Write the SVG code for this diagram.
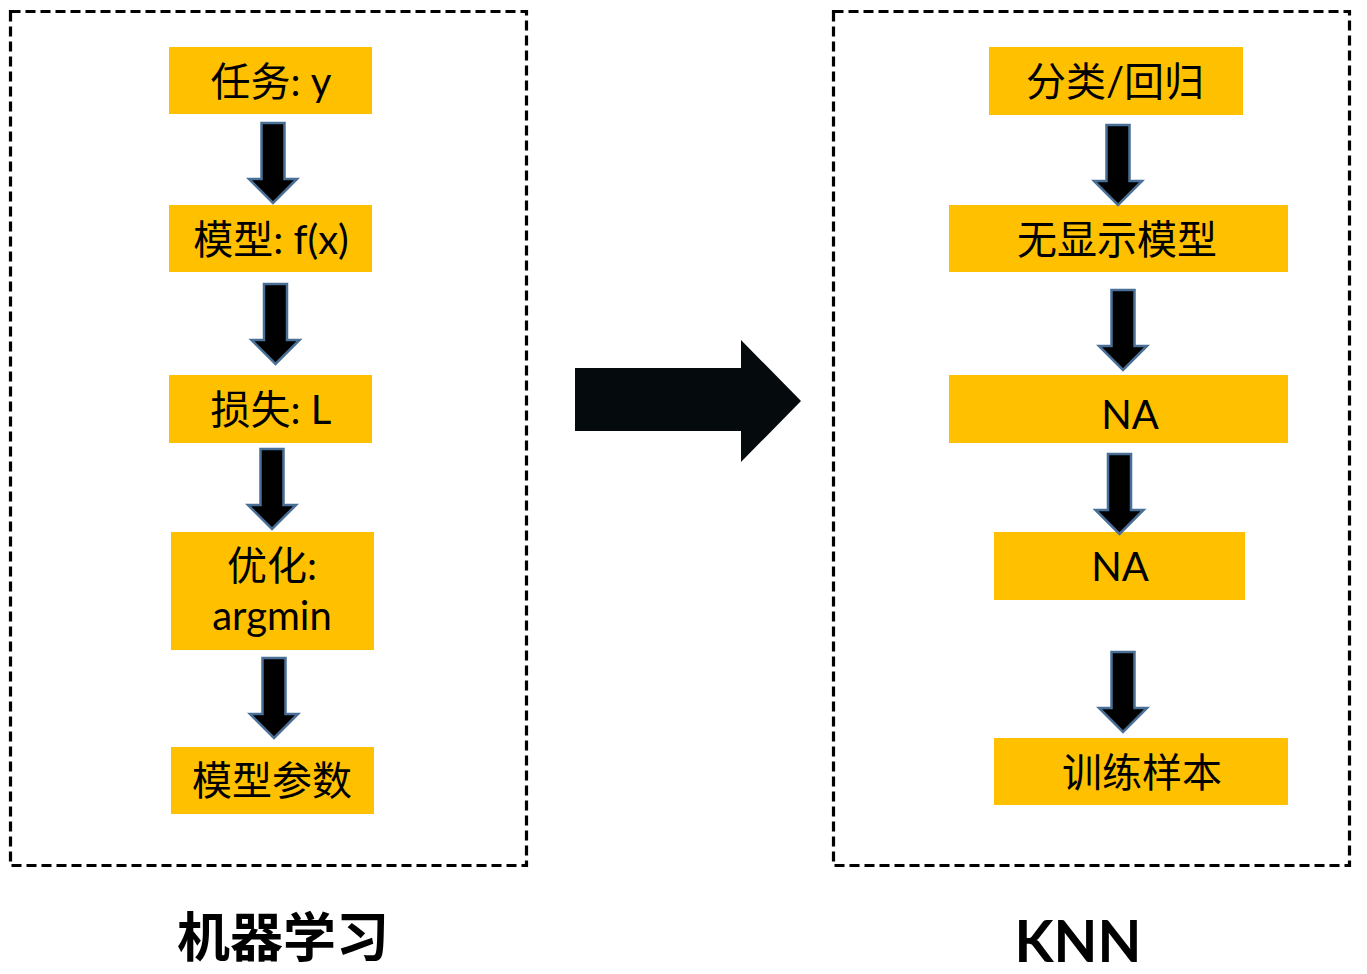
<svg xmlns="http://www.w3.org/2000/svg" width="1367" height="974" viewBox="0 0 1367 974">
<style>
.frame{fill:none;stroke:#000;stroke-width:3.2;stroke-dasharray:10 5}
.box{fill:#FFC000}
.t{font-family:"Noto Sans CJK SC","Lato",sans-serif;font-size:40px;fill:#000;text-anchor:middle}
.lat{font-family:"Lato","Liberation Sans",sans-serif}
.dn{fill:#000;stroke:#4A6F96;stroke-width:2.5;stroke-linejoin:miter}
.lbl{font-family:"Noto Sans CJK SC",sans-serif;font-weight:bold;font-size:53px;fill:#000;text-anchor:middle}
.lblk{font-family:"Lato","Liberation Sans",sans-serif;font-weight:bold;font-size:57px;fill:#000;text-anchor:middle}
</style>
<defs>
<path id="dnarrow" d="M-11.5,0 H11.5 V56 H24 L0,80 L-24,56 H-11.5 Z"/>
</defs>
<rect width="1367" height="974" fill="#fff"/>
<g id="frame-ml"><rect class="frame" x="10.5" y="11.5" width="516" height="854"/></g>
<g id="frame-knn"><rect class="frame" x="833.5" y="11.5" width="516" height="854"/></g>

<g id="n-task"><rect class="box" x="169" y="47" width="203" height="67"/><text class="t" x="271" y="96">任务<tspan class="lat">: y</tspan></text></g>
<g id="n-model"><rect class="box" x="169" y="205" width="203" height="67"/><text class="t" x="271" y="254">模型<tspan class="lat">: f(x)</tspan></text></g>
<g id="n-loss"><rect class="box" x="169" y="375" width="203" height="68"/><text class="t" x="271" y="424">损失<tspan class="lat">: L</tspan></text></g>
<g id="n-opt"><rect class="box" x="171" y="532" width="203" height="118"/><text class="t" x="272" y="580">优化<tspan class="lat">:</tspan></text><text class="t lat" x="272" y="630">argmin</text></g>
<g id="n-param"><rect class="box" x="171" y="747" width="203" height="67"/><text class="t" x="272" y="795">模型参数</text></g>

<g id="n-cls"><rect class="box" x="989" y="47" width="254" height="68"/><text class="t" x="1115" y="96">分类<tspan class="lat">/</tspan>回归</text></g>
<g id="n-nomodel"><rect class="box" x="949" y="205" width="339" height="67"/><text class="t" x="1117" y="254">无显示模型</text></g>
<g id="n-na1"><rect class="box" x="949" y="375" width="339" height="68"/><text class="t lat" x="1130" y="429">NA</text></g>
<g id="n-na2"><rect class="box" x="994" y="532" width="251" height="68"/><text class="t lat" x="1120" y="581">NA</text></g>
<g id="n-train"><rect class="box" x="994" y="738" width="294" height="67"/><text class="t" x="1142" y="787">训练样本</text></g>

<g id="connectors">
<use href="#dnarrow" class="dn" transform="translate(273,123)"/>
<use href="#dnarrow" class="dn" transform="translate(275.5,284)"/>
<use href="#dnarrow" class="dn" transform="translate(272,449)"/>
<use href="#dnarrow" class="dn" transform="translate(274,658)"/>
<use href="#dnarrow" class="dn" transform="translate(1118,125)"/>
<use href="#dnarrow" class="dn" transform="translate(1123,290)"/>
<use href="#dnarrow" class="dn" transform="translate(1119.5,454)"/>
<use href="#dnarrow" class="dn" transform="translate(1123,652)"/>
<polygon points="575,368 741,368 741,340 801,401 741,462 741,431 575,431" fill="#050A0C"/>
</g>

<g id="label-ml"><text class="lbl" x="283" y="957">机器学习</text></g>
<g id="label-knn"><text class="lblk" x="1078" y="962">KNN</text></g>
</svg>
